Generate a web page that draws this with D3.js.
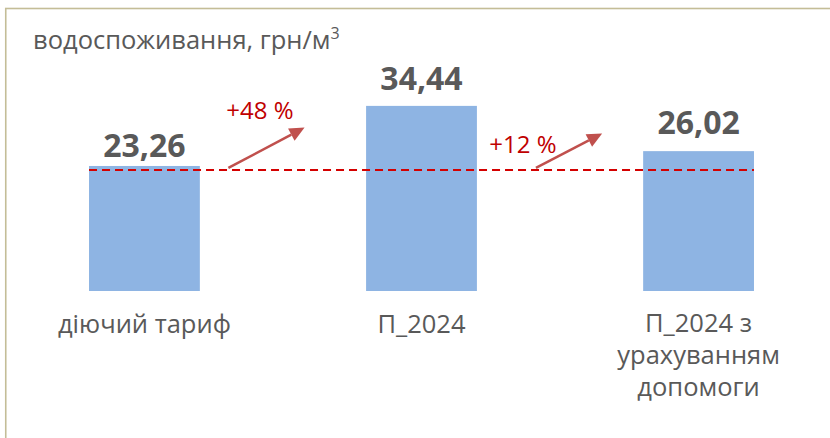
<!DOCTYPE html>
<html><head><meta charset="utf-8">
<script src="https://cdn.jsdelivr.net/npm/d3@7"></script>
<style>
html,body{margin:0;padding:0;background:#fff;}
svg{display:block;font-family:"Open Sans",sans-serif;}
</style></head>
<body>
<svg id="chart" width="830" height="438"></svg>
<script>
const categories = ["діючий тариф", "П_2024", "П_2024 з урахуванням допомоги"];
const categoryLines = [["діючий тариф"], ["П_2024"], ["П_2024 з", "урахуванням", "допомоги"]];
const values = [23.26, 34.44, 26.02];
const valueLabels = ["23,26", "34,44", "26,02"];
const refValue = 22.5;
const title = "водоспоживання, грн/м";
// arrows: start in gap after category i; positions as fraction of band step, values in data units
const arrows = [
  {from: 0, x0: 0.303, v0: 22.9, x1: 0.578, v1: 30.4, label: "+48 %", lx: 0.417, lv: 32.0},
  {from: 1, x0: 0.413, v0: 22.9, x1: 0.652, v1: 29.3, label: "+12 %", lx: 0.366, lv: 25.7}
];

// layout: gap (px) between bar top and value label baseline
const labelGap = [9, 16, 17];

const svg = d3.select("#chart");

svg.append("rect").attr("x", 5.75).attr("y", 8.5).attr("width", 900).attr("height", 600)
  .attr("fill", "#fff").attr("stroke", "#C4BD97").attr("stroke-width", 1.6);

const x = d3.scaleBand().domain(categories).range([5.9, 837.1]).paddingInner(0.6).paddingOuter(0.3);
const y = d3.scaleLinear().domain([0, 40]).range([291, 76]);

// title
const t = svg.append("text").attr("x", 33).attr("y", 49).attr("fill", "#595959")
  .attr("font-size", 25.5).text(title);
t.append("tspan").attr("dy", -10).attr("font-size", 16).text("3");

// bars
svg.selectAll("rect.bar").data(values).join("rect").attr("class", "bar")
  .attr("x", (d, i) => x(categories[i])).attr("width", x.bandwidth())
  .attr("y", d => y(d)).attr("height", d => y(0) - y(d)).attr("fill", "#8EB4E3");

// value labels
svg.selectAll("text.val").data(values).join("text").attr("class", "val")
  .attr("x", (d, i) => x(categories[i]) + x.bandwidth() / 2)
  .attr("y", (d, i) => y(d) - labelGap[i]).attr("text-anchor", "middle")
  .attr("font-size", 32).attr("font-weight", "bold").attr("fill", "#595959")
  .text((d, i) => valueLabels[i]);

// reference dashed line
svg.append("line").attr("x1", x(categories[0])).attr("x2", x(categories[2]) + x.bandwidth())
  .attr("y1", y(refValue)).attr("y2", y(refValue))
  .attr("stroke", "#D40000").attr("stroke-width", 2).attr("stroke-dasharray", "8,5");

// arrows
const step = x.step();
const cx = i => x(categories[i]) + x.bandwidth() / 2;
arrows.forEach(a => {
  const xs = cx(a.from) + a.x0 * step, ys = y(a.v0);
  const xe = cx(a.from) + a.x1 * step, ye = y(a.v1);
  const ang = Math.atan2(ye - ys, xe - xs);
  const hl = 15, hw = 7;
  const bx = xe - hl * Math.cos(ang), by = ye - hl * Math.sin(ang);
  svg.append("line").attr("x1", xs).attr("y1", ys).attr("x2", bx).attr("y2", by)
    .attr("stroke", "#C0504D").attr("stroke-width", 2.5);
  const px = -Math.sin(ang), py = Math.cos(ang);
  svg.append("path").attr("d", `M${xe},${ye}L${bx + px * hw},${by + py * hw}L${bx - px * hw},${by - py * hw}Z`)
    .attr("fill", "#C0504D");
  svg.append("text").attr("x", cx(a.from) + a.lx * step).attr("y", y(a.lv))
    .attr("text-anchor", "middle").attr("font-size", 24).attr("fill", "#C00000").text(a.label);
});

// category labels
categoryLines.forEach((lines, i) => {
  const tx = svg.append("text").attr("x", cx(i)).attr("y", i === 2 ? 332 : 333).attr("text-anchor", "middle")
    .attr("font-size", 25.5).attr("fill", "#595959");
  lines.forEach((l, j) => tx.append("tspan").attr("x", cx(i)).attr("dy", j === 0 ? 0 : 32).text(l));
});
</script>
</body></html>
